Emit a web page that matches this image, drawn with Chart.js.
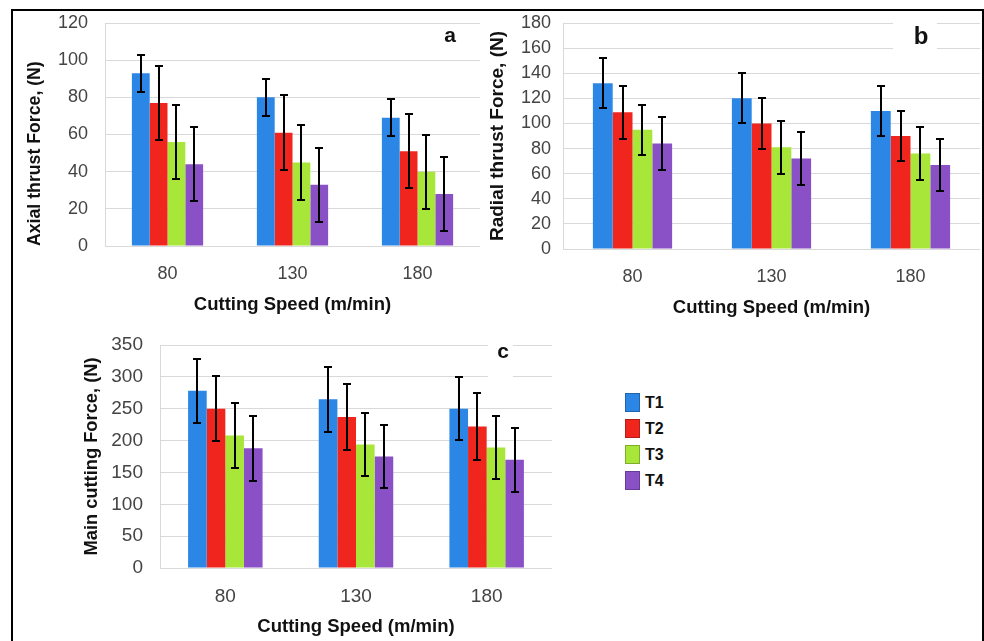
<!DOCTYPE html>
<html>
<head>
<meta charset="utf-8">
<script src="https://cdn.jsdelivr.net/npm/chart.js@4.4.0/dist/chart.umd.min.js"></script>
<style>
  body { margin: 0; background: #fff; width: 984px; height: 641px; overflow: hidden; position: relative; font-family: "Liberation Sans", Arial, sans-serif; }
  .frame { position: absolute; left: 11px; top: 9px; width: 973px; height: 633px; border: 2px solid #000; border-bottom: 1px solid #d0d0d0; box-sizing: border-box; }
  .pane { position: absolute; }
  #legend { position: absolute; left: 625px; top: 393px; }
  #legend .item { height: 26px; display: flex; align-items: flex-start; }
  #legend .sw { width: 15px; height: 19px; border: 1px solid rgba(0,0,0,0.25); box-sizing: border-box; }
  #legend .tx { margin-left: 5px; font-weight: bold; font-size: 16px; line-height: 19px; color: #111; }
</style>
</head>
<body>
<div class="frame"></div>
<div class="pane" style="left:21px;top:13px"><canvas id="chartA" width="461" height="306"></canvas></div>
<div class="pane" style="left:486px;top:13px"><canvas id="chartB" width="496" height="309"></canvas></div>
<div class="pane" style="left:78px;top:335px"><canvas id="chartC" width="476" height="306"></canvas></div>
<div id="legend"></div>

<script>
// cutting speeds
const speeds = ['80', '130', '180'];
const tools = ['T1', 'T2', 'T3', 'T4'];
const colors = ['#2b86e6', '#f0261e', '#a8e63a', '#8a50c6'];

// a - axial thrust force (N), one array per tool, and +/- error
const axialT1 = [93, 80, 69];
const axialT2 = [77, 61, 51];
const axialT3 = [56, 45, 40];
const axialT4 = [44, 33, 28];
const axialErrT1 = [10, 10, 10];
const axialErrT2 = [20, 20, 20];
const axialErrT3 = [20, 20, 20];
const axialErrT4 = [20, 20, 20];

// b - radial thrust force (N)
const radialT1 = [132, 120, 110];
const radialT2 = [109, 100, 90];
const radialT3 = [95, 81, 76];
const radialT4 = [84, 72, 67];
const radialErrT1 = [20, 20, 20];
const radialErrT2 = [21, 20, 20];
const radialErrT3 = [20, 21, 21];
const radialErrT4 = [21, 21, 21];

// c - main cutting force (N)
const mainT1 = [278, 265, 250];
const mainT2 = [250, 237, 222];
const mainT3 = [208, 194, 189];
const mainT4 = [188, 175, 170];
const mainErrT1 = [50, 51, 49];
const mainErrT2 = [51, 52, 53];
const mainErrT3 = [51, 50, 50];
const mainErrT4 = [51, 50, 50];

const FONT = "'Liberation Sans', Arial, sans-serif";

// draws the black error bars on top of every bar
const errorBars = {
  id: 'errorBars',
  afterDatasetsDraw(chart) {
    const ctx = chart.ctx;
    const y = chart.scales.y;
    ctx.save();
    ctx.strokeStyle = '#000';
    ctx.lineWidth = 2;
    chart.data.datasets.forEach((ds, i) => {
      chart.getDatasetMeta(i).data.forEach((bar, j) => {
        const e = ds.errors[j];
        const top = Math.round(y.getPixelForValue(ds.data[j] + e));
        const bot = Math.round(y.getPixelForValue(ds.data[j] - e));
        const x = Math.round(bar.x);
        ctx.beginPath();
        ctx.moveTo(x, top); ctx.lineTo(x, bot);
        ctx.moveTo(x - 4, top); ctx.lineTo(x + 4, top);
        ctx.moveTo(x - 4, bot); ctx.lineTo(x + 4, bot);
        ctx.stroke();
      });
    });
    ctx.restore();
  }
};

// the bold a / b / c in the corner, with a white box behind it
const panelLabel = {
  id: 'panelLabel',
  afterDraw(chart, args, opts) {
    const ctx = chart.ctx;
    const ca = chart.chartArea;
    const cx = ca.right - opts.dx;
    const cy = ca.top + opts.dy;
    const b = opts.box;
    ctx.save();
    ctx.fillStyle = '#fff';
    ctx.fillRect(cx + b[0], cy + b[2], b[1] - b[0], b[3] - b[2]);
    ctx.fillStyle = '#111';
    ctx.font = 'bold ' + opts.size + 'px ' + FONT;
    ctx.textAlign = 'center';
    ctx.textBaseline = 'middle';
    ctx.fillText(opts.text, cx, cy);
    ctx.restore();
  }
};

function makeDatasets(series, errs) {
  return series.map((d, i) => ({
    label: tools[i],
    data: d,
    errors: errs[i],
    backgroundColor: colors[i],
    borderWidth: 0,
    categoryPercentage: 0.57,
    barPercentage: 1.0
  }));
}

function makeChart(id, series, errs, cfg) {
  return new Chart(document.getElementById(id), {
    type: 'bar',
    data: { labels: speeds, datasets: makeDatasets(series, errs) },
    plugins: [errorBars, panelLabel],
    options: {
      responsive: false,
      animation: false,
      layout: { padding: { top: 10, right: 2, left: 0, bottom: 0 } },
      plugins: {
        legend: { display: false },
        tooltip: { enabled: false },
        panelLabel: cfg.label
      },
      scales: {
        x: {
          grid: { display: false, drawTicks: false },
          border: { display: false },
          ticks: { color: '#444', font: { family: FONT, size: cfg.tickSize }, padding: 17 },
          title: { display: true, text: 'Cutting Speed (m/min)', color: '#111',
                   font: { family: FONT, size: 18.5, weight: 'bold' }, padding: { top: 0, bottom: 3 } },
          afterFit(s) { s.height = 73; s.paddingLeft = 0; s.paddingRight = 0; }
        },
        y: {
          min: 0, max: cfg.max,
          ticks: { stepSize: cfg.step, color: '#444', font: { family: FONT, size: cfg.tickSize }, padding: cfg.tickPad },
          grid: { color: '#d9d9d9', drawTicks: false },
          border: { display: true, color: '#d9d9d9' },
          title: { display: true, text: cfg.title, color: '#111', align: cfg.titleAlign,
                   font: { family: FONT, size: cfg.titleSize, weight: 'bold' }, padding: { top: cfg.titlePad, bottom: 0 } },
          afterFit(s) { s.width = cfg.yWidth; s.paddingTop = 0; s.paddingBottom = 0; }
        }
      }
    }
  });
}

makeChart('chartA', [axialT1, axialT2, axialT3, axialT4],
  [axialErrT1, axialErrT2, axialErrT3, axialErrT4], {
    max: 120, step: 20, tickSize: 18, tickPad: 17, yWidth: 84,
    title: 'Axial thrust Force, (N)', titleSize: 17.7, titlePad: 3, titleAlign: 'start',
    label: { text: 'a', size: 21, dx: 30, dy: 13, box: [-12, 12, -10, 10] }
  });

makeChart('chartB', [radialT1, radialT2, radialT3, radialT4],
  [radialErrT1, radialErrT2, radialErrT3, radialErrT4], {
    max: 180, step: 20, tickSize: 18, tickPad: 12, yWidth: 77,
    title: 'Radial thrust Force, (N)', titleSize: 19, titlePad: 0, titleAlign: 'center',
    label: { text: 'b', size: 24, dx: 59, dy: 14, box: [-28, 16, -16, 12] }
  });

const chartC = makeChart('chartC', [mainT1, mainT2, mainT3, mainT4],
  [mainErrT1, mainErrT2, mainErrT3, mainErrT4], {
    max: 350, step: 50, tickSize: 19, tickPad: 17, yWidth: 82,
    title: 'Main cutting Force, (N)', titleSize: 18.3, titlePad: 3, titleAlign: 'center',
    label: { text: 'c', size: 21, dx: 49, dy: 7, box: [-15, 10, -10, 27] }
  });

// shared legend built from chart c's datasets
const legendEl = document.getElementById('legend');
chartC.data.datasets.forEach(ds => {
  const item = document.createElement('div');
  item.className = 'item';
  item.innerHTML = '<div class="sw" style="background:' + ds.backgroundColor + '"></div><div class="tx">' + ds.label + '</div>';
  legendEl.appendChild(item);
});
</script>
</body>
</html>
